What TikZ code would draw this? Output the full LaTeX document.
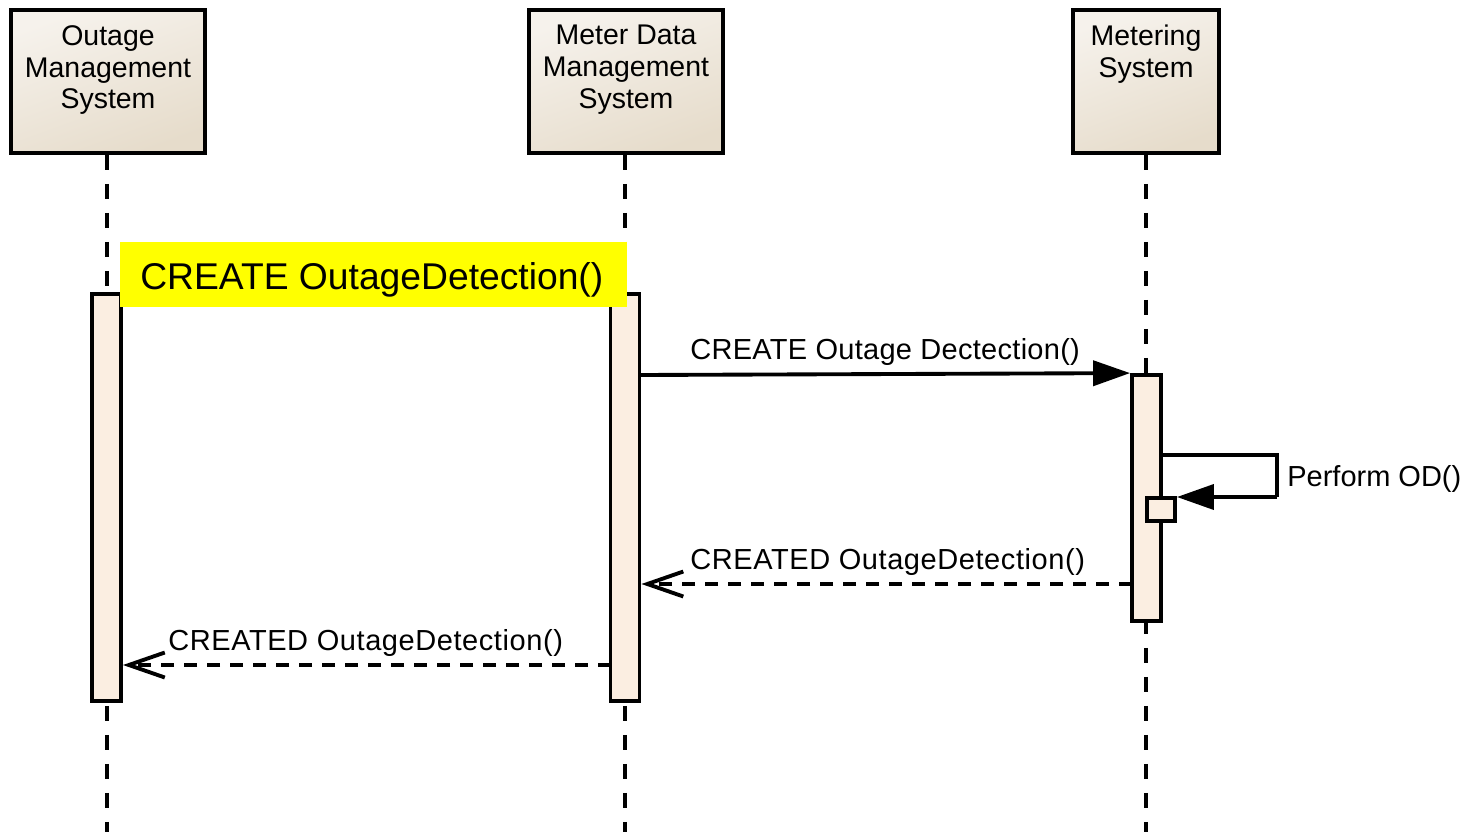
\documentclass[tikz,border=0pt]{standalone}
\usepackage{fontspec}
\setmainfont{Liberation Sans}
\usetikzlibrary{arrows.meta}
\definecolor{headA}{HTML}{F6F2EC}
\definecolor{headB}{HTML}{E6DCCB}
\definecolor{actfill}{HTML}{FBEEE1}
\definecolor{hilite}{HTML}{FFFF00}
\tikzset{
  head/.style={draw=black, line width=2.2pt, top color=headA, bottom color=headB, shading angle=20, minimum height=2.86cm, inner sep=0pt},
  headtxt/.style={anchor=north, align=center, font=\fontsize{16.2}{18.1}\selectfont, inner sep=0pt},
  lifeline/.style={line width=2.2pt, dash pattern=on 0.3cm off 0.28cm},
  actbar/.style={draw=black, line width=2.2pt, fill=actfill, minimum width=0.58cm, inner sep=0pt},
  msg/.style={line width=2.2pt, -{Triangle[length=0.74cm,width=0.5cm]}},
  reply/.style={line width=2.2pt, dash pattern=on 0.26cm off 0.2cm, -{Straight Barb[length=0.72cm,width=0.5cm,line width=2.2pt]}},
  msgtxt/.style={anchor=base west, font=\fontsize{16.5}{18}\selectfont, inner sep=0pt},
}
\begin{document}
\begin{tikzpicture}[x=0.02cm, y=-0.02cm]
\useasboundingbox[fill=white] (0,0) rectangle (1466,832);
% header boxes
\node[head, minimum width=3.88cm] (oms) at (108,81.5) {};
\node[head, minimum width=3.88cm] (mdms) at (626,81.5) {};
\node[head, minimum width=2.92cm] (ms) at (1146,81.5) {};
\node[headtxt] (omsT) at (108,25) {Outage\\Management\\System};
\node[headtxt] (mdmsT) at (626,25) {Meter Data\\Management\\System};
\node[headtxt] (msT) at (1146,25) {Metering\\System};
% lifeline ends
\coordinate (omsEnd) at (107,832);
\coordinate (mdmsEnd) at (625,832);
\coordinate (msEnd) at (1146,832);
\draw[lifeline] (oms.south -| omsEnd) -- (omsEnd);
\draw[lifeline] (mdms.south -| mdmsEnd) -- (mdmsEnd);
\draw[lifeline] (ms.south -| msEnd) -- (msEnd);
% activation bars
\node[actbar, minimum height=8.14cm] (omsA) at (106.5,497.5) {};
\node[actbar, minimum height=8.14cm] (mdmsA) at (625,497.5) {};
\node[actbar, minimum height=4.92cm] (msA) at (1146.5,498) {};
\node[actbar, minimum width=0.56cm, minimum height=0.46cm] (msB) at (1161,509.5) {};
% highlighted label
\node[fill=hilite, minimum width=10.14cm, minimum height=1.3cm, inner sep=0pt] (yel) at (373.5,274.5) {};
\node[anchor=base west, font=\fontsize{21.2}{24}\selectfont, inner sep=0pt] (yelT) at (140,289) {CREATE OutageDetection()};
% messages
\coordinate (m1s) at (639,375);
\draw[msg] (m1s) -- (msA.north west);
\node[msgtxt] (m1T) at (690,359) {\addfontfeature{LetterSpace=1}CREATE Outage Dectection()};
% self message
\coordinate (s1) at (1161,455);
\coordinate (s2) at (1277,455);
\coordinate (s3) at (1277,497);
\draw[line width=2.2pt] (s1) -- (s2) -- (s3);
\draw[msg] (s3) -- (s3 -| msB.east);
\node[msgtxt] (sT) at (1287,486) {Perform OD()};
% replies
\coordinate (r1s) at (1132,584);
\draw[reply] (r1s) -- (r1s -| mdmsA.east);
\node[msgtxt] (r1T) at (690,569) {\addfontfeature{LetterSpace=2}CREATED OutageDetection()};
\coordinate (r2s) at (611,665);
\draw[reply] (r2s) -- (r2s -| omsA.east);
\node[msgtxt] (r2T) at (168,650) {\addfontfeature{LetterSpace=2}CREATED OutageDetection()};
\end{tikzpicture}
\end{document}
